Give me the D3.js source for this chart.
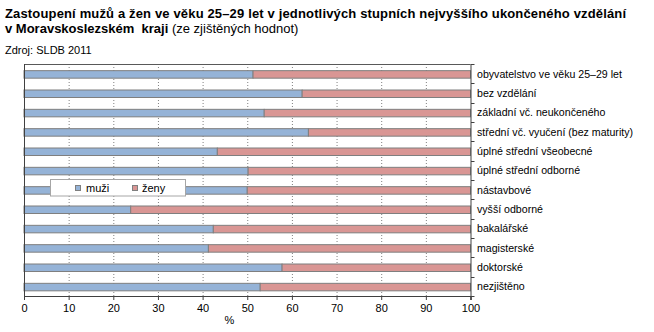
<!DOCTYPE html>
<html><head><meta charset="utf-8">
<script src="https://cdn.jsdelivr.net/npm/d3@7"></script>
<style>
html,body{margin:0;padding:0;background:#fff;}
text{font-family:"Liberation Sans",Arial,sans-serif;fill:#000;}
</style></head>
<body>
<svg id="c" width="654" height="332"></svg>
<script>
const categories = ["obyvatelstvo ve věku 25–29 let","bez vzdělání","základní vč. neukončeného","střední vč. vyučení (bez maturity)","úplné střední všeobecné","úplné střední odborné","nástavbové","vyšší odborné","bakalářské","magisterské","doktorské","nezjištěno"];
const muzi = [51.3,62.3,53.8,63.7,43.3,50.2,50.0,23.9,42.4,41.3,57.8,52.9];
const zeny = [48.7,37.7,46.2,36.3,56.7,49.8,50.0,76.1,57.6,58.7,42.2,47.1];
const xTicks = [0,10,20,30,40,50,60,70,80,90,100];
const seriesNames = ["muži","ženy"];
const colors = ["#95b3d7","#d99694"];

const svg = d3.select("#c");
const x = d3.scaleLinear().domain([0,100]).range([24,470.5]);
const y = d3.scaleBand().domain(categories).range([64,296]).padding(0);

// title
svg.append("text").attr("x",5).attr("y",18.3).attr("font-size",13).attr("font-weight","bold")
  .attr("textLength",621).attr("lengthAdjust","spacing")
  .text("Zastoupení mužů a žen ve věku 25–29 let v jednotlivých stupních nejvyššího ukončeného vzdělání");
const t2 = svg.append("text").attr("x",5).attr("y",33.3).attr("font-size",13).style("white-space","pre");
t2.append("tspan").attr("font-weight","bold").text("v Moravskoslezském  kraji");
t2.append("tspan").text(" (ze zjištěných hodnot)");
svg.append("text").attr("x",5).attr("y",54.3).attr("font-size",11).text("Zdroj: SLDB 2011");

// gridlines
svg.append("g").selectAll("line").data(xTicks.slice(1,-1)).join("line")
  .attr("x1",d=>x(d)+0.5).attr("x2",d=>x(d)+0.5).attr("y1",64).attr("y2",296)
  .attr("stroke","#808080").attr("stroke-dasharray","1,2");

// top border
svg.append("line").attr("x1",x(0)).attr("x2",x(100)).attr("y1",64.5).attr("y2",64.5).attr("stroke","#595959");

// bars
const rows = categories.map((c,i)=>({c, m:muzi[i], z:zeny[i]}));
const g = svg.append("g");
g.selectAll("rect.m").data(rows).join("rect").attr("class","m")
  .attr("x",d=>x(0)).attr("width",d=>x(d.m)-x(0))
  .attr("y",d=>y(d.c)+y.bandwidth()/2-3).attr("height",7.5)
  .attr("fill",colors[0]).attr("stroke","#7f7f7f").attr("stroke-width",1);
g.selectAll("rect.z").data(rows).join("rect").attr("class","z")
  .attr("x",d=>x(d.m)).attr("width",d=>x(d.m+d.z)-x(d.m))
  .attr("y",d=>y(d.c)+y.bandwidth()/2-3).attr("height",7.5)
  .attr("fill",colors[1]).attr("stroke","#7f7f7f").attr("stroke-width",1);

// bottom axis
const xa = svg.append("g").attr("transform","translate(0,296)")
  .call(d3.axisBottom(x).tickValues(xTicks).tickSize(4).tickPadding(4).tickFormat(d3.format("d")));
xa.select(".domain").attr("stroke","#404040");
xa.selectAll(".tick line").attr("stroke","#404040");
xa.selectAll("text").attr("font-size",11).attr("fill","#000").attr("font-family","Liberation Sans, Arial, sans-serif");
svg.append("text").attr("x",229.5).attr("y",324).attr("font-size",11).attr("text-anchor","middle").text("%");

// left axis line
svg.append("line").attr("x1",x(0)+0.5).attr("x2",x(0)+0.5).attr("y1",64).attr("y2",296).attr("stroke","#404040");

// right axis
const ra = svg.append("g").attr("transform",`translate(${x(100)},0)`);
ra.append("line").attr("x1",0.5).attr("x2",0.5).attr("y1",64).attr("y2",300).attr("stroke","#404040");
const bounds = categories.map(c=>y(c)).concat([y.range()[1]]);
ra.selectAll("line.tk").data(bounds).join("line").attr("class","tk")
  .attr("x1",0.5).attr("x2",4).attr("y1",d=>Math.round(d)+0.5).attr("y2",d=>Math.round(d)+0.5).attr("stroke","#404040");
ra.selectAll("text").data(categories).join("text")
  .attr("x",477-x(100)).attr("y",d=>y(d)+y.bandwidth()/2+4).attr("font-size",10.6).text(d=>d);

// legend
const lg = svg.append("g");
lg.append("rect").attr("x",50.5).attr("y",179.5).attr("width",135).attr("height",16.5)
  .attr("fill","#fff").attr("stroke","#a6a6a6");
const lx = [75.5,132.5], tx = [86,142];
seriesNames.forEach((s,i)=>{
  lg.append("rect").attr("x",lx[i]).attr("y",185.5).attr("width",5).attr("height",5)
    .attr("fill",colors[i]).attr("stroke","#7f7f7f");
  lg.append("text").attr("x",tx[i]).attr("y",191.5).attr("font-size",11).text(s);
});
</script>
</body></html>
